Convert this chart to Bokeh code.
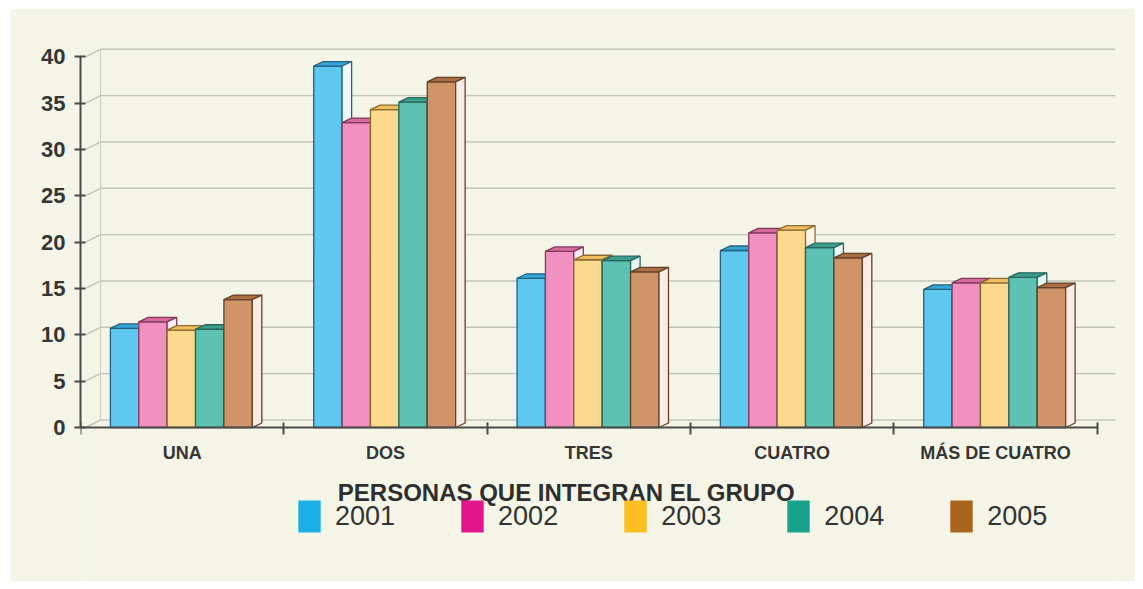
from bokeh.plotting import figure
from bokeh.models import FixedTicker, Label
from bokeh.embed import file_html
from bokeh.resources import INLINE

# ---------------- data ----------------
categories = ["UNA", "DOS", "TRES", "CUATRO", "MÁS DE CUATRO"]
years = ["2001", "2002", "2003", "2004", "2005"]
v2001 = [10.7, 39.0, 16.1, 19.1, 14.9]
v2002 = [11.4, 32.9, 19.0, 21.0, 15.6]
v2003 = [10.5, 34.3, 18.1, 21.3, 15.6]
v2004 = [10.6, 35.1, 18.0, 19.4, 16.2]
v2005 = [13.8, 37.3, 16.8, 18.3, 15.1]
y_ticks = [0, 5, 10, 15, 20, 25, 30, 35, 40]
x_title = "PERSONAS QUE INTEGRAN EL GRUPO"

series = [v2001, v2002, v2003, v2004, v2005]

# ---------------- styles ----------------
front_colors = ["#5fc8f1", "#f290c1", "#fdd98d", "#5dc2b1", "#cf9468"]
top_colors = ["#36a6d6", "#d66a9d", "#eebd5c", "#3a9f8f", "#ad6e42"]
side_colors = ["#eef8fd", "#fcebf3", "#fef6e4", "#e8f6f2", "#faece2"]
edge_colors = ["#23607e", "#83395c", "#8c6a32", "#2a645b", "#62422a"]
legend_colors = ["#1caee6", "#e2168c", "#fbbf1f", "#17a38b", "#a8631c"]

M_TOP, M_LEFT = 8, 10
W, H = 1125, 573
LEFT, RIGHT, TOP = 70, 18, 39
FRAME_W = W - LEFT - RIGHT
X_END = 5.1
PXX = FRAME_W / X_END
Y_END = 41
PXY = 380 / Y_END
Y_START = -(H - TOP - 380) / PXY

DX = 9.5 / PXX      # bar depth
DY = 4.5 / PXY
WX = 20 / PXX       # back-wall offset
WY = 7.5 / PXY
BAR_W = 0.1396
GROUP_START = 0.147

p = figure(width=W, height=H, x_range=(0, X_END), y_range=(Y_START, Y_END),
           output_backend="svg", toolbar_location=None,
           min_border_left=LEFT, min_border_right=RIGHT, min_border_top=TOP,
           min_border_bottom=0)
p.margin = (M_TOP, 0, 0, M_LEFT)
p.background_fill_color = "#f4f5e6"
p.border_fill_color = "#f4f5e6"
p.outline_line_color = None
p.xgrid.visible = False
p.ygrid.visible = False

# back wall grid lines + diagonals
gx0, gy0, gx1, gy1 = [], [], [], []
for v in y_ticks:
    gx0.append(WX); gy0.append(v + WY); gx1.append(5 + WX * 0.9); gy1.append(v + WY)
    gx0.append(0.025); gy0.append(v); gx1.append(WX); gy1.append(v + WY)
p.segment(gx0, gy0, gx1, gy1, line_color="#c3c4b8", line_width=1.4)
p.segment([WX], [WY], [WX], [y_ticks[-1] + WY], line_color="#cfd0c4", line_width=1.2)

# per-year front faces (also the legend entries); covered by the shaded 3D faces below
for j, y in enumerate(years):
    lefts = [c + GROUP_START + j * BAR_W for c in range(len(categories))]
    rights = [l + BAR_W for l in lefts]
    p.quad(left=lefts, right=rights, top=series[j], bottom=0,
           fill_color=legend_colors[j], line_color=None, legend_label=y)

# 3D bars (painter's order)
xs, ys, fills, lines = [], [], [], []
for c in range(len(categories)):
    for j, vals in enumerate(series):
        v = vals[c]
        l = c + GROUP_START + j * BAR_W
        r = l + BAR_W
        xs.append([l, r, r, l]); ys.append([0, 0, v, v])
        fills.append(front_colors[j]); lines.append(edge_colors[j])
        xs.append([l, r, r + DX, l + DX]); ys.append([v, v, v + DY, v + DY])
        fills.append(top_colors[j]); lines.append(edge_colors[j])
        xs.append([r, r + DX, r + DX, r]); ys.append([0, DY, v + DY, v])
        fills.append(side_colors[j]); lines.append(edge_colors[j])
p.patches(xs=xs, ys=ys, fill_color=fills, line_color=lines, line_width=1.3)

lg = p.legend[0]
lg.orientation = "horizontal"
lg.location = (215, 45)
lg.padding = 0
lg.margin = 0
lg.spacing = 63
lg.glyph_width = 28
lg.glyph_height = 40
lg.label_standoff = 12
lg.label_text_font = "Liberation Sans"
lg.label_text_font_size = "27px"
lg.label_text_color = "#333333"
lg.background_fill_alpha = 0
lg.border_line_color = None

# axes
ya = p.yaxis[0]
ya.ticker = FixedTicker(ticks=y_ticks)
ya.bounds = (0, 40)
ya.axis_line_color = "#4a4a4a"
ya.axis_line_width = 2
ya.major_tick_line_color = "#4a4a4a"
ya.major_tick_line_width = 2
ya.major_tick_in = 5
ya.major_tick_out = 6
ya.minor_tick_line_color = None
ya.major_label_standoff = 9
ya.major_label_text_font = "Liberation Sans"
ya.major_label_text_font_style = "bold"
ya.major_label_text_font_size = "22px"
ya.major_label_text_color = "#353535"

xa = p.xaxis[0]
xa.fixed_location = 0
centers = [i + 0.5 for i in range(len(categories))]
xa.ticker = FixedTicker(ticks=centers, minor_ticks=list(range(len(categories) + 1)))
xa.major_label_overrides = {centers[i]: categories[i] for i in range(len(categories))}
xa.bounds = (0, 5)
xa.axis_line_color = "#4a4a4a"
xa.axis_line_width = 2
xa.major_tick_line_color = None
xa.major_tick_in = 0
xa.major_tick_out = 0
xa.minor_tick_line_color = "#4a4a4a"
xa.minor_tick_line_width = 2
xa.minor_tick_in = 5
xa.minor_tick_out = 7
xa.major_label_standoff = 8
xa.major_label_text_font = "Liberation Sans"
xa.major_label_text_font_style = "bold"
xa.major_label_text_font_size = "18px"
xa.major_label_text_color = "#353535"

title = Label(x=(566 - M_LEFT - LEFT) / PXX, y=-(492 - 427) / PXY, x_units="data", y_units="data",
              text=x_title, text_align="center", text_baseline="middle",
              text_font="Liberation Sans", text_font_style="bold",
              text_font_size="24px", text_color="#2e2e2e")
p.add_layout(title)

open("out.html", "w").write(file_html(p, INLINE))
